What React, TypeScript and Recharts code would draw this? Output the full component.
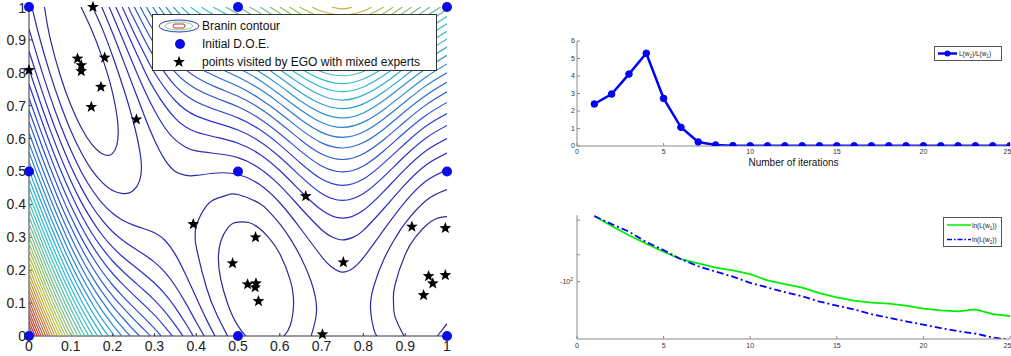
import React from 'react';
import { ScatterChart, Scatter, LineChart, Line, XAxis, YAxis, Label } from 'recharts';

const FONT = '"Liberation Sans", Arial, Helvetica, sans-serif';

// ---------- left panel: Branin contour on the unit square ----------
const unitTicks = [0, 0.1, 0.2, 0.3, 0.4, 0.5, 0.6, 0.7, 0.8, 0.9, 1];

const doePoints = [
  [0, 0], [0.5, 0], [1, 0], [0, 0.5], [0.5, 0.5], [1, 0.5], [0, 1], [0.5, 1], [1, 1],
];

const egoPoints = [
  [0.153, 1.0], [0, 0.808], [0.116, 0.843], [0.125, 0.823], [0.125, 0.805], [0.181, 0.846],
  [0.172, 0.757], [0.149, 0.696], [0.257, 0.658], [0.662, 0.425], [0.393, 0.34], [0.542, 0.3],
  [0.487, 0.221], [0.523, 0.157], [0.543, 0.16], [0.541, 0.148], [0.549, 0.106], [0.752, 0.224],
  [0.916, 0.332], [0.996, 0.328], [0.956, 0.182], [0.966, 0.16], [0.944, 0.124], [0.996, 0.185],
  [0.702, 0.005],
];

// isolines that close around the three minima (lowest two levels)
const contourLoops = [
  { level: 7.9, pts: [[0.037, 1], [0.05, 0.908], [0.075, 0.791], [0.1, 0.702], [0.125, 0.633], [0.15, 0.583], [0.175, 0.554], [0.2, 0.555], [0.2135, 0.619], [0.2, 0.739], [0.175, 0.847], [0.15, 0.93], [0.1245, 1]] },
  { level: 7.9, pts: [[0.518, 0], [0.5, 0.031], [0.475, 0.099], [0.453, 0.236], [0.475, 0.328], [0.5, 0.346], [0.525, 0.345], [0.55, 0.328], [0.575, 0.297], [0.6, 0.25], [0.625, 0.17], [0.633, 0.098], [0.625, 0.032], [0.61, 0]] },
  { level: 7.9, pts: [[1, 0.363], [0.975, 0.357], [0.95, 0.336], [0.925, 0.301], [0.9, 0.248], [0.875, 0.152], [0.872, 0.105], [0.875, 0.061], [0.897, 0]] },
  { level: 7.9, pts: [[0.977, 0], [1, 0.0375]] },
  { level: 15.4, pts: [[0.007, 1], [0.025, 0.908], [0.05, 0.799], [0.075, 0.705], [0.1, 0.624], [0.125, 0.558], [0.15, 0.505], [0.175, 0.467], [0.2, 0.442], [0.225, 0.433], [0.25, 0.443], [0.269, 0.511], [0.25, 0.649], [0.225, 0.757], [0.2, 0.851], [0.175, 0.935], [0.152, 1]] },
  { level: 15.4, pts: [[0.475, 0], [0.45, 0.063], [0.425, 0.145], [0.4, 0.272], [0.398, 0.3], [0.4, 0.333], [0.425, 0.396], [0.45, 0.4185], [0.475, 0.429], [0.5, 0.43], [0.55, 0.404], [0.575, 0.377], [0.6, 0.341], [0.625, 0.296], [0.65, 0.24], [0.675, 0.1655], [0.688, 0.079], [0.675, 0]] },
  { level: 15.4, pts: [[1, 0.445], [0.95, 0.412], [0.9, 0.343], [0.875, 0.295], [0.85, 0.236], [0.825, 0.152], [0.817, 0.083], [0.825, 0.02], [0.832, 0]] },
];

// upper sheet of each isoline (valley shape across the top-right)
const upperBranches = [
  { level: 22.9, pts: [[0.174, 1], [0.2, 0.921], [0.225, 0.839], [0.25, 0.756], [0.275, 0.6725], [0.3, 0.596], [0.325, 0.536], [0.35, 0.5], [0.375, 0.488], [0.4, 0.488], [0.45, 0.4955], [0.5, 0.491], [0.55, 0.462], [0.6, 0.405], [0.65, 0.326], [0.7, 0.2415], [0.725, 0.209], [0.75, 0.194], [0.775, 0.206], [0.8, 0.238], [0.85, 0.325], [0.9, 0.408], [0.95, 0.471], [1, 0.505]] },
  { level: 30.4, pts: [[0.1915, 1], [0.2, 0.976], [0.225, 0.9], [0.25, 0.824], [0.275, 0.751], [0.3, 0.686], [0.325, 0.633], [0.35, 0.596], [0.375, 0.574], [0.4, 0.5625], [0.45, 0.554], [0.5, 0.542], [0.55, 0.511], [0.6, 0.458], [0.65, 0.389], [0.7, 0.323], [0.725, 0.301], [0.75, 0.292], [0.775, 0.2997], [0.8, 0.321], [0.85, 0.389], [0.9, 0.461], [0.95, 0.52], [1, 0.556]] },
  { level: 37.9, pts: [[0.2077, 1], [0.225, 0.951], [0.25, 0.879], [0.275, 0.81], [0.3, 0.749], [0.35, 0.6615], [0.4, 0.62], [0.45, 0.6035], [0.5, 0.586], [0.55, 0.554], [0.6, 0.503], [0.65, 0.44], [0.7, 0.383], [0.75, 0.358], [0.8, 0.382], [0.85, 0.441], [0.9, 0.507], [0.95, 0.563], [1, 0.6]] },
  { level: 45.4, pts: [[0.223, 1], [0.25, 0.925], [0.275, 0.86], [0.3, 0.801], [0.35, 0.715], [0.4, 0.669], [0.45, 0.647], [0.5, 0.626], [0.55, 0.593], [0.6, 0.544], [0.65, 0.485], [0.7, 0.433], [0.75, 0.412], [0.8, 0.433], [0.85, 0.486], [0.9, 0.548], [0.95, 0.602], [1, 0.64]] },
  { level: 52.9, pts: [[0.2375, 1], [0.25, 0.967], [0.275, 0.9035], [0.3, 0.847], [0.35, 0.76], [0.4, 0.712], [0.45, 0.686], [0.5, 0.663], [0.55, 0.629], [0.6, 0.581], [0.65, 0.525], [0.7, 0.477], [0.75, 0.458], [0.8, 0.477], [0.85, 0.527], [0.9, 0.585], [0.95, 0.638], [1, 0.676]] },
  { level: 60.4, pts: [[0.252, 1], [0.275, 0.943], [0.3, 0.887], [0.35, 0.801], [0.4, 0.751], [0.45, 0.722], [0.5, 0.697], [0.55, 0.662], [0.6, 0.615], [0.65, 0.562], [0.7, 0.517], [0.75, 0.499], [0.8, 0.517], [0.85, 0.564], [0.9, 0.62], [0.95, 0.671], [1, 0.71]] },
  { level: 67.9, pts: [[0.266, 1], [0.275, 0.979], [0.3, 0.924], [0.35, 0.839], [0.4, 0.7865], [0.45, 0.755], [0.5, 0.7285], [0.55, 0.694], [0.6, 0.6475], [0.65, 0.596], [0.7, 0.553], [0.75, 0.5365], [0.8, 0.554], [0.85, 0.598], [0.9, 0.652], [0.95, 0.7025], [1, 0.742]] },
  { level: 75.5, pts: [[0.281, 1], [0.3, 0.959], [0.35, 0.8735], [0.4, 0.82], [0.45, 0.787], [0.5, 0.759], [0.55, 0.723], [0.6, 0.678], [0.65, 0.628], [0.7, 0.587], [0.75, 0.5715], [0.8, 0.588], [0.85, 0.63], [0.9, 0.683], [0.95, 0.732], [1, 0.772]] },
  { level: 83.0, pts: [[0.296, 1], [0.325, 0.9445], [0.35, 0.906], [0.4, 0.851], [0.45, 0.817], [0.5, 0.787], [0.55, 0.752], [0.6, 0.707], [0.65, 0.658], [0.7, 0.619], [0.75, 0.604], [0.8, 0.62], [0.85, 0.661], [0.9, 0.712], [0.95, 0.761], [1, 0.8]] },
  { level: 90.5, pts: [[0.311, 1], [0.325, 0.975], [0.35, 0.936], [0.4, 0.881], [0.45, 0.845], [0.5, 0.8145], [0.55, 0.779], [0.6, 0.734], [0.65, 0.687], [0.7, 0.649], [0.75, 0.634], [0.8, 0.65], [0.85, 0.6895], [0.9, 0.739], [0.95, 0.7875], [1, 0.827]] },
  { level: 98.0, pts: [[0.3275, 1], [0.35, 0.965], [0.375, 0.934], [0.4, 0.909], [0.45, 0.872], [0.5, 0.841], [0.55, 0.804], [0.6, 0.761], [0.65, 0.714], [0.7, 0.6775], [0.75, 0.663], [0.8, 0.678], [0.85, 0.717], [0.9, 0.766], [0.95, 0.813], [1, 0.8535]] },
  { level: 105.5, pts: [[0.345, 1], [0.375, 0.961], [0.4, 0.936], [0.45, 0.898], [0.5, 0.866], [0.55, 0.829], [0.6, 0.786], [0.65, 0.74], [0.7, 0.705], [0.75, 0.691], [0.8, 0.7055], [0.85, 0.743], [0.9, 0.791], [0.95, 0.838], [1, 0.8785]] },
  { level: 113.0, pts: [[0.365, 1], [0.375, 0.9875], [0.4, 0.962], [0.45, 0.923], [0.5, 0.89], [0.55, 0.853], [0.6, 0.81], [0.65, 0.766], [0.7, 0.731], [0.75, 0.717], [0.8, 0.732], [0.85, 0.768], [0.9, 0.816], [0.95, 0.862], [1, 0.903]] },
  { level: 120.5, pts: [[0.387, 1], [0.4, 0.987], [0.45, 0.947], [0.5, 0.913], [0.55, 0.8765], [0.6, 0.834], [0.65, 0.79], [0.7, 0.756], [0.75, 0.743], [0.8, 0.757], [0.85, 0.793], [0.9, 0.839], [0.95, 0.8855], [1, 0.926]] },
  { level: 128.0, pts: [[0.4126, 1], [0.425, 0.989], [0.45, 0.97], [0.5, 0.936], [0.55, 0.899], [0.6, 0.8565], [0.65, 0.813], [0.7, 0.78], [0.75, 0.767], [0.8, 0.781], [0.85, 0.816], [0.9, 0.862], [0.95, 0.908], [1, 0.949]] },
  { level: 135.5, pts: [[0.4407, 1], [0.45, 0.993], [0.5, 0.958], [0.55, 0.921], [0.6, 0.879], [0.65, 0.836], [0.7, 0.803], [0.75, 0.791], [0.8, 0.804], [0.85, 0.839], [0.9, 0.884], [0.95, 0.93], [1, 0.971]] },
  { level: 143.0, pts: [[0.4702, 1], [0.5, 0.979], [0.55, 0.942], [0.6, 0.9], [0.65, 0.858], [0.7, 0.826], [0.75, 0.814], [0.8, 0.827], [0.85, 0.861], [0.9, 0.906], [0.95, 0.951], [1, 0.992]] },
  { level: 150.5, pts: [[0.5004, 1], [0.55, 0.963], [0.6, 0.921], [0.65, 0.8795], [0.7, 0.848], [0.75, 0.836], [0.8, 0.849], [0.85, 0.8825], [0.9, 0.927], [0.95, 0.972], [0.985, 1]] },
  { level: 158.0, pts: [[0.527, 1], [0.55, 0.983], [0.6, 0.941], [0.65, 0.9], [0.7, 0.869], [0.75, 0.8575], [0.8, 0.87], [0.85, 0.903], [0.9, 0.947], [0.95, 0.992], [0.96, 1]] },
  { level: 165.5, pts: [[0.5531, 1], [0.6, 0.961], [0.65, 0.921], [0.7, 0.89], [0.75, 0.8785], [0.8, 0.891], [0.85, 0.924], [0.9, 0.967], [0.937, 1]] },
  { level: 173.0, pts: [[0.5764, 1], [0.6, 0.981], [0.65, 0.9405], [0.7, 0.91], [0.75, 0.899], [0.8, 0.911], [0.85, 0.944], [0.9, 0.986], [0.9153, 1]] },
  { level: 180.5, pts: [[0.6, 1], [0.65, 0.96], [0.7, 0.93], [0.75, 0.919], [0.8, 0.931], [0.85, 0.963], [0.8935, 1]] },
  { level: 188.0, pts: [[0.6231, 1], [0.65, 0.979], [0.7, 0.949], [0.75, 0.938], [0.8, 0.9505], [0.85, 0.982], [0.8715, 1]] },
  { level: 195.5, pts: [[0.6466, 1], [0.7, 0.968], [0.75, 0.9575], [0.8, 0.9695], [0.8492, 1]] },
  { level: 203.0, pts: [[0.6769, 1], [0.7, 0.987], [0.75, 0.976], [0.8, 0.988], [0.8194, 1]] },
  { level: 210.5, pts: [[0.7233, 1], [0.75, 0.994], [0.7735, 1]] },
];

// lower sheet of each isoline (the steep fan in the bottom-left corner)
const lowerBranches = [
  { level: 22.9, pts: [[0, 0.933], [0.025, 0.828], [0.05, 0.73], [0.075, 0.642], [0.1, 0.565], [0.125, 0.4995], [0.15, 0.446], [0.175, 0.404], [0.2, 0.373], [0.225, 0.351], [0.25, 0.337], [0.275, 0.326], [0.3, 0.314], [0.325, 0.291], [0.35, 0.248], [0.375, 0.186], [0.4, 0.117], [0.425, 0.049], [0.445, 0]] },
  { level: 30.4, pts: [[0, 0.8655], [0.025, 0.768], [0.05, 0.675], [0.075, 0.591], [0.1, 0.516], [0.125, 0.451], [0.15, 0.396], [0.175, 0.352], [0.2, 0.317], [0.225, 0.29], [0.25, 0.268], [0.275, 0.248], [0.3, 0.2245], [0.325, 0.194], [0.35, 0.152], [0.375, 0.1], [0.4, 0.0425], [0.419, 0]] },
  { level: 37.9, pts: [[0, 0.811], [0.025, 0.7175], [0.05, 0.628], [0.075, 0.546], [0.1, 0.472], [0.125, 0.407], [0.15, 0.353], [0.175, 0.307], [0.2, 0.27], [0.225, 0.24], [0.25, 0.214], [0.275, 0.1885], [0.3, 0.161], [0.325, 0.128], [0.35, 0.0865], [0.375, 0.038], [0.393, 0]] },
  { level: 45.4, pts: [[0, 0.765], [0.025, 0.674], [0.05, 0.5865], [0.075, 0.506], [0.1, 0.433], [0.125, 0.3685], [0.15, 0.313], [0.175, 0.267], [0.2, 0.228], [0.225, 0.196], [0.25, 0.167], [0.275, 0.139], [0.3, 0.109], [0.325, 0.074], [0.35, 0.033], [0.368, 0]] },
  { level: 52.9, pts: [[0, 0.723], [0.025, 0.634], [0.05, 0.549], [0.075, 0.469], [0.1, 0.397], [0.125, 0.333], [0.15, 0.277], [0.175, 0.23], [0.2, 0.19], [0.225, 0.156], [0.25, 0.125], [0.275, 0.095], [0.3, 0.064], [0.325, 0.028], [0.343, 0]] },
  { level: 60.4, pts: [[0, 0.6855], [0.025, 0.598], [0.05, 0.5135], [0.075, 0.435], [0.1, 0.363], [0.125, 0.299], [0.15, 0.244], [0.175, 0.196], [0.2, 0.155], [0.225, 0.1195], [0.25, 0.087], [0.275, 0.056], [0.3, 0.023], [0.316, 0]] },
  { level: 67.9, pts: [[0, 0.651], [0.025, 0.564], [0.05, 0.481], [0.075, 0.403], [0.1, 0.332], [0.125, 0.268], [0.15, 0.212], [0.175, 0.164], [0.2, 0.122], [0.225, 0.086], [0.25, 0.052], [0.275, 0.02], [0.29, 0]] },
  { level: 75.5, pts: [[0, 0.618], [0.025, 0.532], [0.05, 0.45], [0.075, 0.3725], [0.1, 0.302], [0.125, 0.238], [0.15, 0.182], [0.175, 0.1335], [0.2, 0.091], [0.225, 0.054], [0.25, 0.019], [0.265, 0]] },
  { level: 83.0, pts: [[0, 0.587], [0.025, 0.502], [0.05, 0.421], [0.075, 0.344], [0.1, 0.273], [0.125, 0.21], [0.15, 0.154], [0.175, 0.105], [0.2, 0.062], [0.225, 0.024], [0.242, 0]] },
  { level: 90.5, pts: [[0, 0.558], [0.025, 0.474], [0.05, 0.393], [0.075, 0.317], [0.1, 0.246], [0.125, 0.183], [0.15, 0.127], [0.175, 0.077], [0.2, 0.034], [0.222, 0]] },
  { level: 98.0, pts: [[0, 0.53], [0.025, 0.447], [0.05, 0.366], [0.075, 0.29], [0.1, 0.22], [0.125, 0.157], [0.15, 0.101], [0.175, 0.051], [0.205, 0]] },
  { level: 105.5, pts: [[0, 0.504], [0.025, 0.421], [0.05, 0.341], [0.075, 0.265], [0.1, 0.1955], [0.125, 0.132], [0.15, 0.076], [0.175, 0.026], [0.19, 0]] },
  { level: 113.0, pts: [[0, 0.478], [0.025, 0.396], [0.05, 0.316], [0.075, 0.241], [0.1, 0.171], [0.125, 0.108], [0.15, 0.052], [0.176, 0]] },
  { level: 120.5, pts: [[0, 0.454], [0.025, 0.3715], [0.05, 0.292], [0.075, 0.2175], [0.1, 0.148], [0.125, 0.085], [0.15, 0.029], [0.164, 0]] },
  { level: 128.0, pts: [[0, 0.43], [0.025, 0.348], [0.05, 0.269], [0.075, 0.195], [0.1, 0.126], [0.125, 0.063], [0.153, 0]] },
  { level: 135.5, pts: [[0, 0.407], [0.025, 0.326], [0.05, 0.247], [0.075, 0.173], [0.1, 0.104], [0.125, 0.041], [0.143, 0]] },
  { level: 143.0, pts: [[0, 0.385], [0.025, 0.304], [0.05, 0.225], [0.075, 0.151], [0.1, 0.0825], [0.125, 0.0196], [0.134, 0]] },
  { level: 150.5, pts: [[0, 0.363], [0.025, 0.282], [0.05, 0.204], [0.075, 0.1305], [0.1, 0.062], [0.125, 0]] },
  { level: 158.0, pts: [[0, 0.342], [0.025, 0.262], [0.05, 0.184], [0.075, 0.11], [0.1, 0.042], [0.117, 0]] },
  { level: 165.5, pts: [[0, 0.322], [0.025, 0.241], [0.05, 0.164], [0.075, 0.09], [0.1, 0.022], [0.109, 0]] },
  { level: 173.0, pts: [[0, 0.302], [0.025, 0.222], [0.05, 0.144], [0.075, 0.071], [0.101, 0]] },
  { level: 180.5, pts: [[0, 0.282], [0.025, 0.202], [0.05, 0.125], [0.075, 0.052], [0.094, 0]] },
  { level: 188.0, pts: [[0, 0.263], [0.025, 0.183], [0.05, 0.106], [0.075, 0.033], [0.0875, 0]] },
  { level: 195.5, pts: [[0, 0.244], [0.025, 0.165], [0.05, 0.088], [0.075, 0.015], [0.081, 0]] },
  { level: 203.0, pts: [[0, 0.226], [0.025, 0.147], [0.05, 0.07], [0.074, 0]] },
  { level: 210.5, pts: [[0, 0.208], [0.025, 0.129], [0.05, 0.052], [0.068, 0]] },
  { level: 218.0, pts: [[0, 0.1905], [0.025, 0.111], [0.05, 0.035], [0.062, 0]] },
  { level: 225.5, pts: [[0, 0.173], [0.025, 0.094], [0.05, 0.018], [0.056, 0]] },
  { level: 233.1, pts: [[0, 0.156], [0.025, 0.077], [0.05, 0]] },
  { level: 240.6, pts: [[0, 0.1395], [0.025, 0.061], [0.045, 0]] },
  { level: 248.1, pts: [[0, 0.123], [0.025, 0.0445], [0.04, 0]] },
  { level: 255.6, pts: [[0, 0.107], [0.025, 0.028], [0.0346, 0]] },
  { level: 263.1, pts: [[0, 0.091], [0.0125, 0.0516], [0.025, 0.0126], [0.0293, 0]] },
  { level: 270.6, pts: [[0, 0.075], [0.0125, 0.036], [0.0241, 0]] },
  { level: 278.1, pts: [[0, 0.06], [0.0125, 0.0205], [0.0193, 0]] },
  { level: 285.6, pts: [[0, 0.0445], [0.0125, 0.0053], [0.0145, 0]] },
  { level: 293.1, pts: [[0, 0.0295], [0.0096, 0]] },
  { level: 300.6, pts: [[0, 0.0147], [0.0048, 0]] },
];

// ---------- right panels ----------
const iterations = [1, 2, 3, 4, 5, 6, 7, 8, 9, 10, 11, 12, 13, 14, 15, 16, 17, 18, 19, 20, 21, 22, 23, 24, 25];
const likelihoodRatio = [2.4, 2.97, 4.11, 5.3, 2.72, 1.07, 0.23, 0.06, 0.02, 0.01, 0.01, 0.01, 0.01, 0.01, 0.01, 0.01, 0.01, 0.01, 0.01, 0.01, 0.01, 0.01, 0.01, 0.01, 0.01];
const lnLw1 = [-58, -63, -68, -73, -78, -83, -86, -89, -91, -94, -99, -102, -105, -110, -114, -117, -119, -120, -122, -125, -127, -128, -126, -131, -133];
const lnLw2 = [-58, -62, -66, -72, -77, -83, -88, -92, -96, -101, -105, -109, -113, -118, -122, -126, -131, -135, -139, -143, -147, -151, -154, -159, -162];
const iterTicks = [0, 5, 10, 15, 20, 25];
const ratioTicks = [0, 1, 2, 3, 4, 5, 6];
const lnTicks = [-100, -90, -80, -70, -60];

const ratioData = iterations.map((it, i) => ({ it, ratio: likelihoodRatio[i] }));
const lnData = iterations.map((it, i) => ({ it, w1: lnLw1[i], w2: lnLw2[i] }));
const toXY = (pts) => pts.map(([x, y]) => ({ x, y }));

// jet colormap, washed out like the thin jpeg'd lines of the original
function jet(level) {
  const t = level / 325;
  const c = (v) => Math.max(0, Math.min(1, 1.5 - Math.abs(4 * t - v)));
  const soft = (v, base) => Math.round(255 * (0.58 * v + 0.42 * base));
  return `rgb(${soft(c(3), 0.4)},${soft(c(2), 0.4)},${soft(c(1), 0.58)})`;
}

const NoDot = () => <g />;
const BlueDot = ({ cx, cy }) => <circle cx={cx} cy={cy} r={5} fill="#0b0be6" />;
const StarShape = ({ cx, cy }) => {
  let d = '';
  for (let k = 0; k < 10; k++) {
    const rad = k % 2 === 0 ? 6.2 : 2.6;
    const a = -Math.PI / 2 + (k * Math.PI) / 5;
    d += `${k ? 'L' : 'M'}${(cx + rad * Math.cos(a)).toFixed(2)},${(cy + rad * Math.sin(a)).toFixed(2)}`;
  }
  return <path d={d + 'Z'} fill="#000" />;
};

const allContours = [...lowerBranches, ...upperBranches, ...contourLoops];

function ContourPanel() {
  const tickStyle = { fontSize: 14, fill: '#222', fontFamily: FONT };
  return (
    <ScatterChart width={460} height={356} margin={{ top: 7, right: 13, bottom: 0, left: 0 }}>
      <XAxis xAxisId="cx" dataKey="x" type="number" domain={[0, 1]} hide allowDataOverflow />
      <YAxis yAxisId="cy" dataKey="y" type="number" domain={[0, 1]} hide allowDataOverflow />
      <XAxis dataKey="x" type="number" domain={[0, 1]} ticks={unitTicks} height={20} tickSize={-3} tickMargin={8} stroke="#333" tick={tickStyle} />
      <YAxis dataKey="y" type="number" domain={[0, 1]} ticks={unitTicks} width={29} tickSize={-3} tickMargin={6} stroke="#333" tick={tickStyle} />
      {allContours.map((c, i) => (
        <Scatter
          key={i}
          xAxisId="cx"
          yAxisId="cy"
          data={toXY(c.pts)}
          line={{ stroke: jet(c.level), strokeWidth: 1.2 }}
          lineJointType="natural"
          shape={NoDot}
          isAnimationActive={false}
        />
      ))}
      <Scatter data={toXY(doePoints)} shape={BlueDot} isAnimationActive={false} />
      <Scatter data={toXY(egoPoints)} shape={StarShape} isAnimationActive={false} />
    </ScatterChart>
  );
}

function ContourLegend() {
  const row = (top, icon, text) => (
    <div style={{ position: 'absolute', left: 0, top, height: 18, width: '100%' }}>
      <div style={{ position: 'absolute', left: 4, top: 0, width: 44, height: 18 }}>{icon}</div>
      <div style={{ position: 'absolute', left: 49, top: 2, fontSize: 12, lineHeight: '14px', color: '#111', whiteSpace: 'nowrap' }}>{text}</div>
    </div>
  );
  return (
    <div style={{ position: 'absolute', left: 152, top: 14, width: 285, height: 57, border: '1px solid #333', background: '#fff', boxSizing: 'border-box', fontFamily: FONT }}>
      {row(2,
        <svg width={44} height={18}>
          <ellipse cx={22} cy={9} rx={20} ry={6} fill="none" stroke="#3a3a9a" strokeWidth={1} />
          <ellipse cx={22} cy={9} rx={14} ry={4} fill="none" stroke="#7fd0a0" strokeWidth={1} />
          <rect x={16} y={7} width={12} height={4} rx={2} fill="none" stroke="#c0302a" strokeWidth={1} />
        </svg>, 'Branin contour')}
      {row(20, <svg width={44} height={18}><circle cx={23} cy={9} r={5} fill="#0b0be6" /></svg>, 'Initial D.O.E.')}
      {row(38, <svg width={44} height={18}><StarShape cx={22} cy={9} /></svg>, 'points visited by EGO with mixed experts')}
    </div>
  );
}

const smallTick = { fontSize: 7, fill: '#333', fontFamily: FONT };
const FRAME = '#8a8a8a';

function RatioPanel() {
  return (
    <LineChart width={471} height={180} data={ratioData} margin={{ top: 41, right: 1, bottom: 0, left: 0 }}>
      <XAxis dataKey="it" type="number" domain={[0, 25]} ticks={iterTicks} height={34} tickSize={-3} tickMargin={6} stroke={FRAME} tick={smallTick} allowDataOverflow>
        <Label value="Number of iterations" position="insideTop" offset={13} fontSize={10} fill="#111" fontFamily={FONT} />
      </XAxis>
      <XAxis xAxisId="top" orientation="top" type="number" domain={[0, 25]} ticks={iterTicks} height={0} tickSize={-3} tick={false} stroke={FRAME} allowDataOverflow />
      <YAxis type="number" domain={[0, 6]} ticks={ratioTicks} width={37} tickSize={-3} tickMargin={5} stroke={FRAME} tick={smallTick} allowDataOverflow />
      <YAxis yAxisId="right" orientation="right" type="number" domain={[0, 6]} ticks={ratioTicks} width={0} tickSize={-3} tick={false} stroke={FRAME} allowDataOverflow />
      <Line dataKey="ratio" stroke="#0000ff" strokeWidth={2.5} dot={{ r: 3.3, fill: '#0000ff', stroke: '#0000ff', strokeWidth: 1 }} isAnimationActive={false} />
    </LineChart>
  );
}

function LnTick(props) {
  const { x, y, payload } = props;
  if (payload.value !== -100) return <g />;
  return (
    <text x={x - 2} y={y + 2.5} textAnchor="end" fontSize={7} fill="#333" fontFamily={FONT}>
      -10<tspan dy={-3.5} fontSize={5}>2</tspan>
    </text>
  );
}

function LnPanel() {
  return (
    <LineChart width={471} height={156} data={lnData} margin={{ top: 15, right: 1, bottom: 0, left: 0 }}>
      <XAxis dataKey="it" type="number" domain={[0, 25]} ticks={iterTicks} height={17} tickSize={-3} tickMargin={7} stroke={FRAME} tick={smallTick} allowDataOverflow />
      <XAxis xAxisId="top" orientation="top" type="number" domain={[0, 25]} ticks={iterTicks} height={0} tickSize={-3} tick={false} stroke={FRAME} allowDataOverflow />
      <YAxis type="number" scale="log" domain={[-161, -57.5]} ticks={lnTicks} width={37} tickSize={-3} tickMargin={5} stroke={FRAME} tick={LnTick} allowDataOverflow />
      <YAxis yAxisId="right" orientation="right" type="number" scale="log" domain={[-161, -57.5]} ticks={lnTicks} width={0} tickSize={-3} tick={false} stroke={FRAME} allowDataOverflow />
      <Line dataKey="w1" stroke="#00ee00" strokeWidth={1.8} dot={false} isAnimationActive={false} />
      <Line dataKey="w2" stroke="#0000ff" strokeWidth={1.8} strokeDasharray="7 3 2 3" dot={false} isAnimationActive={false} />
    </LineChart>
  );
}

function SmallLegendBox({ left, top, width, height, children }) {
  return (
    <div style={{ position: 'absolute', left, top, width, height, border: '1px solid #555', background: '#fff', boxSizing: 'border-box', fontFamily: FONT, fontSize: 6.5, color: '#222' }}>
      {children}
    </div>
  );
}

export default function App() {
  return (
    <div style={{ position: 'absolute', left: 0, top: 0, width: 1011, height: 356, background: '#fff', overflow: 'hidden', fontFamily: FONT }}>
      <div style={{ position: 'absolute', left: 0, top: 0 }}>
        <ContourPanel />
      </div>
      <ContourLegend />

      <div style={{ position: 'absolute', left: 540, top: 0 }}>
        <RatioPanel />
      </div>
      <SmallLegendBox left={934} top={46} width={68} height={15}>
        <svg width={22} height={13} style={{ position: 'absolute', left: 2, top: 0 }}>
          <line x1={1} y1={6.5} x2={20} y2={6.5} stroke="#0000ff" strokeWidth={2.5} />
          <circle cx={10.5} cy={6.5} r={3} fill="#0000ff" />
        </svg>
        <div style={{ position: 'absolute', left: 24, top: 2, whiteSpace: 'nowrap', lineHeight: '9px' }}>
          L(w<sub style={{ fontSize: 4.5 }}>2</sub>)/L(w<sub style={{ fontSize: 4.5 }}>1</sub>)
        </div>
      </SmallLegendBox>

      <div style={{ position: 'absolute', left: 540, top: 200 }}>
        <LnPanel />
      </div>
      <SmallLegendBox left={943} top={217} width={59} height={30}>
        <svg width={26} height={28} style={{ position: 'absolute', left: 2, top: 0 }}>
          <line x1={1} y1={7} x2={25} y2={7} stroke="#00ee00" strokeWidth={1.5} />
          <line x1={1} y1={21.5} x2={25} y2={21.5} stroke="#0000ff" strokeWidth={1.5} strokeDasharray="5 2 1.5 2" />
        </svg>
        <div style={{ position: 'absolute', left: 28, top: 3, whiteSpace: 'nowrap', lineHeight: '9px' }}>
          ln(L(w<sub style={{ fontSize: 4.5 }}>1</sub>))
        </div>
        <div style={{ position: 'absolute', left: 28, top: 17, whiteSpace: 'nowrap', lineHeight: '9px' }}>
          ln(L(w<sub style={{ fontSize: 4.5 }}>2</sub>))
        </div>
      </SmallLegendBox>
    </div>
  );
}
